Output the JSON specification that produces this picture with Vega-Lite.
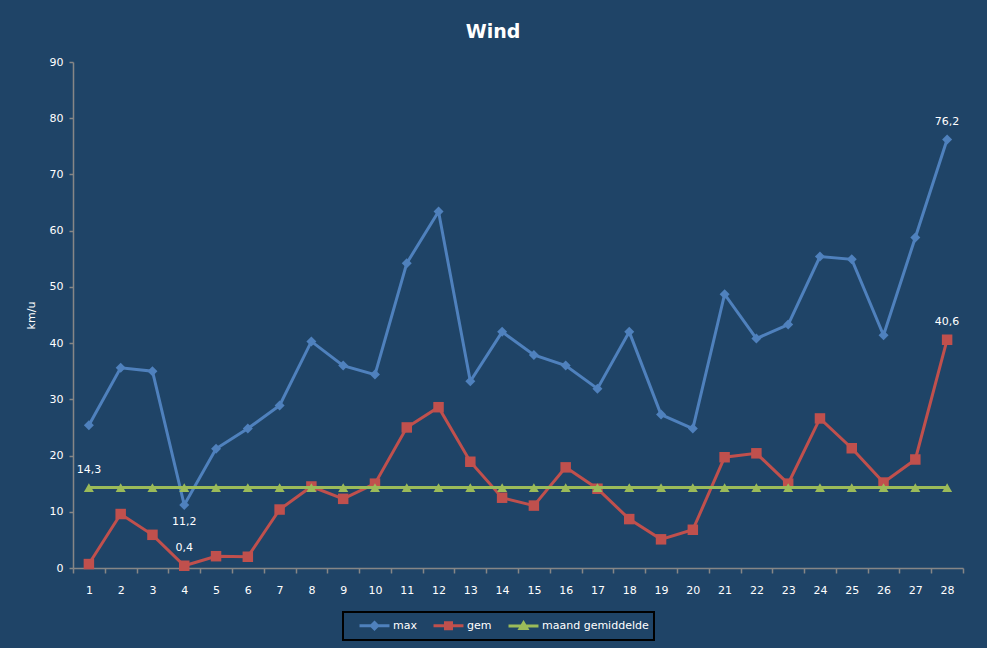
{
  "$schema": "https://vega.github.io/schema/vega-lite/v6.json",
  "width": 890,
  "height": 506,
  "autosize": {"type": "none"},
  "padding": {"left": 73, "top": 62, "right": 24, "bottom": 80},
  "background": "#1F4467",
  "title": {
    "text": "Wind",
    "font": "DejaVu Sans",
    "fontSize": 19,
    "fontWeight": "bold",
    "color": "#FFFFFF",
    "anchor": "middle",
    "dx": -25,
    "offset": 14
  },
  "config": {
    "view": {"stroke": null},
    "locale": {"number": {"decimal": ",", "thousands": ".", "grouping": [3], "currency": ["€", ""]}},
    "axis": {
      "labelFont": "DejaVu Sans",
      "labelFontSize": 11,
      "labelColor": "#FFFFFF",
      "titleFont": "DejaVu Sans",
      "titleColor": "#FFFFFF",
      "domainColor": "#868686",
      "domainWidth": 1.5,
      "tickColor": "#868686",
      "tickWidth": 1.5,
      "grid": false
    }
  },
  "data": {
    "values": [
      {"dag": 1, "serie": "max", "waarde": 25.4},
      {"dag": 2, "serie": "max", "waarde": 35.6},
      {"dag": 3, "serie": "max", "waarde": 35.0},
      {"dag": 4, "serie": "max", "waarde": 11.2},
      {"dag": 5, "serie": "max", "waarde": 21.2},
      {"dag": 6, "serie": "max", "waarde": 24.8},
      {"dag": 7, "serie": "max", "waarde": 28.9},
      {"dag": 8, "serie": "max", "waarde": 40.3},
      {"dag": 9, "serie": "max", "waarde": 36.0},
      {"dag": 10, "serie": "max", "waarde": 34.4},
      {"dag": 11, "serie": "max", "waarde": 54.2},
      {"dag": 12, "serie": "max", "waarde": 63.4},
      {"dag": 13, "serie": "max", "waarde": 33.2},
      {"dag": 14, "serie": "max", "waarde": 42.0},
      {"dag": 15, "serie": "max", "waarde": 37.9},
      {"dag": 16, "serie": "max", "waarde": 36.0},
      {"dag": 17, "serie": "max", "waarde": 31.9},
      {"dag": 18, "serie": "max", "waarde": 42.0},
      {"dag": 19, "serie": "max", "waarde": 27.3},
      {"dag": 20, "serie": "max", "waarde": 24.8},
      {"dag": 21, "serie": "max", "waarde": 48.7},
      {"dag": 22, "serie": "max", "waarde": 40.8},
      {"dag": 23, "serie": "max", "waarde": 43.3},
      {"dag": 24, "serie": "max", "waarde": 55.4},
      {"dag": 25, "serie": "max", "waarde": 54.9},
      {"dag": 26, "serie": "max", "waarde": 41.4},
      {"dag": 27, "serie": "max", "waarde": 58.8},
      {"dag": 28, "serie": "max", "waarde": 76.2},
      {"dag": 1, "serie": "gem", "waarde": 0.7},
      {"dag": 2, "serie": "gem", "waarde": 9.6},
      {"dag": 3, "serie": "gem", "waarde": 5.9},
      {"dag": 4, "serie": "gem", "waarde": 0.4},
      {"dag": 5, "serie": "gem", "waarde": 2.1},
      {"dag": 6, "serie": "gem", "waarde": 2.0},
      {"dag": 7, "serie": "gem", "waarde": 10.4},
      {"dag": 8, "serie": "gem", "waarde": 14.5},
      {"dag": 9, "serie": "gem", "waarde": 12.3},
      {"dag": 10, "serie": "gem", "waarde": 15.0},
      {"dag": 11, "serie": "gem", "waarde": 25.0},
      {"dag": 12, "serie": "gem", "waarde": 28.6},
      {"dag": 13, "serie": "gem", "waarde": 18.9},
      {"dag": 14, "serie": "gem", "waarde": 12.5},
      {"dag": 15, "serie": "gem", "waarde": 11.1},
      {"dag": 16, "serie": "gem", "waarde": 17.9},
      {"dag": 17, "serie": "gem", "waarde": 14.1},
      {"dag": 18, "serie": "gem", "waarde": 8.7},
      {"dag": 19, "serie": "gem", "waarde": 5.1},
      {"dag": 20, "serie": "gem", "waarde": 6.8},
      {"dag": 21, "serie": "gem", "waarde": 19.7},
      {"dag": 22, "serie": "gem", "waarde": 20.4},
      {"dag": 23, "serie": "gem", "waarde": 15.0},
      {"dag": 24, "serie": "gem", "waarde": 26.6},
      {"dag": 25, "serie": "gem", "waarde": 21.3},
      {"dag": 26, "serie": "gem", "waarde": 15.2},
      {"dag": 27, "serie": "gem", "waarde": 19.3},
      {"dag": 28, "serie": "gem", "waarde": 40.6},
      {"dag": 1, "serie": "maand gemiddelde", "waarde": 14.3},
      {"dag": 2, "serie": "maand gemiddelde", "waarde": 14.3},
      {"dag": 3, "serie": "maand gemiddelde", "waarde": 14.3},
      {"dag": 4, "serie": "maand gemiddelde", "waarde": 14.3},
      {"dag": 5, "serie": "maand gemiddelde", "waarde": 14.3},
      {"dag": 6, "serie": "maand gemiddelde", "waarde": 14.3},
      {"dag": 7, "serie": "maand gemiddelde", "waarde": 14.3},
      {"dag": 8, "serie": "maand gemiddelde", "waarde": 14.3},
      {"dag": 9, "serie": "maand gemiddelde", "waarde": 14.3},
      {"dag": 10, "serie": "maand gemiddelde", "waarde": 14.3},
      {"dag": 11, "serie": "maand gemiddelde", "waarde": 14.3},
      {"dag": 12, "serie": "maand gemiddelde", "waarde": 14.3},
      {"dag": 13, "serie": "maand gemiddelde", "waarde": 14.3},
      {"dag": 14, "serie": "maand gemiddelde", "waarde": 14.3},
      {"dag": 15, "serie": "maand gemiddelde", "waarde": 14.3},
      {"dag": 16, "serie": "maand gemiddelde", "waarde": 14.3},
      {"dag": 17, "serie": "maand gemiddelde", "waarde": 14.3},
      {"dag": 18, "serie": "maand gemiddelde", "waarde": 14.3},
      {"dag": 19, "serie": "maand gemiddelde", "waarde": 14.3},
      {"dag": 20, "serie": "maand gemiddelde", "waarde": 14.3},
      {"dag": 21, "serie": "maand gemiddelde", "waarde": 14.3},
      {"dag": 22, "serie": "maand gemiddelde", "waarde": 14.3},
      {"dag": 23, "serie": "maand gemiddelde", "waarde": 14.3},
      {"dag": 24, "serie": "maand gemiddelde", "waarde": 14.3},
      {"dag": 25, "serie": "maand gemiddelde", "waarde": 14.3},
      {"dag": 26, "serie": "maand gemiddelde", "waarde": 14.3},
      {"dag": 27, "serie": "maand gemiddelde", "waarde": 14.3},
      {"dag": 28, "serie": "maand gemiddelde", "waarde": 14.3}
    ]
  },
  "encoding": {
    "x": {
      "field": "dag",
      "type": "ordinal",
      "bandPosition": 0.5,
      "scale": {"type": "band", "paddingInner": 0, "paddingOuter": 0},
      "axis": {"title": null, "labelAngle": 0, "tickBand": "extent", "tickSize": 5, "labelPadding": 11}
    },
    "y": {
      "field": "waarde",
      "type": "quantitative",
      "scale": {"domain": [0, 90], "nice": false},
      "axis": {
        "title": "km/u",
        "titleFontSize": 11,
        "titleFontWeight": "normal",
        "titlePadding": 13,
        "values": [0, 10, 20, 30, 40, 50, 60, 70, 80, 90],
        "tickSize": 4,
        "labelPadding": 6
      }
    }
  },
  "layer": [
    {
      "mark": {"type": "line", "strokeWidth": 3},
      "encoding": {
        "color": {
          "field": "serie",
          "type": "nominal",
          "sort": ["max", "gem", "maand gemiddelde"],
          "scale": {"domain": ["max", "gem", "maand gemiddelde"], "range": ["#4F81BD", "#C0504D", "#9BBB59"]},
          "legend": {
            "title": null,
            "orient": "none",
            "direction": "horizontal",
            "legendX": 270,
            "legendY": 550,
            "strokeColor": "#000000",
            "padding": 5,
            "symbolSize": 196,
            "symbolStrokeWidth": 3,
            "labelOffset": 28,
            "columnPadding": 5,
            "labelFont": "DejaVu Sans",
            "labelFontSize": 11,
            "labelColor": "#FFFFFF",
            "labelExpr": "datum.label == 'maand gemiddelde' ? datum.label + ' ' : datum.label",
            "encode": {
              "legend": {"update": {"strokeWidth": {"value": 2}}},
              "symbols": {
                "update": {
                  "shape": {"signal": "datum.value == 'max' ? 'M0.43,0H4.71M2.57,-0.45L3.02,0L2.57,0.45L2.12,0Z' : datum.value == 'gem' ? 'M0.43,0H4.71M2.14,-0.43H3.0V0.43H2.14Z' : 'M0.43,0H4.71M2.57,-0.45L3.05,0.35H2.09Z'"},
                  "fill": {"signal": "scale('color', datum.value)"},
                  "stroke": {"signal": "scale('color', datum.value)"},
                  "strokeWidth": {"value": 3},
                  "opacity": {"value": 1}
                }
              }
            }
          }
        }
      }
    },
    {
      "transform": [{"filter": "datum.serie == 'max'"}],
      "mark": {"type": "point", "shape": "diamond", "filled": true, "opacity": 1, "size": 100, "color": "#4F81BD"}
    },
    {
      "transform": [{"filter": "datum.serie == 'gem'"}],
      "mark": {"type": "point", "shape": "square", "filled": true, "opacity": 1, "size": 110, "color": "#C0504D"}
    },
    {
      "transform": [{"filter": "datum.serie == 'maand gemiddelde'"}],
      "mark": {"type": "line", "strokeWidth": 3, "color": "#9BBB59"},
      "encoding": {}
    },
    {
      "transform": [{"filter": "datum.serie == 'maand gemiddelde'"}],
      "mark": {"type": "point", "shape": "triangle-up", "filled": true, "opacity": 1, "size": 100, "color": "#9BBB59"}
    },
    {
      "transform": [
        {"filter": "(datum.serie == 'maand gemiddelde' && datum.dag == 1) || (datum.serie == 'gem' && (datum.dag == 4 || datum.dag == 28)) || (datum.serie == 'max' && datum.dag == 28)"}
      ],
      "mark": {"type": "text", "dy": -18, "font": "DejaVu Sans", "fontSize": 11, "color": "#FFFFFF"},
      "encoding": {
        "text": {"field": "waarde", "type": "quantitative", "format": ".1f"}
      }
    },
    {
      "transform": [
        {"filter": "datum.serie == 'max' && datum.dag == 4"}
      ],
      "mark": {"type": "text", "dy": 17, "font": "DejaVu Sans", "fontSize": 11, "color": "#FFFFFF"},
      "encoding": {
        "text": {"field": "waarde", "type": "quantitative", "format": ".1f"}
      }
    }
  ]
}
